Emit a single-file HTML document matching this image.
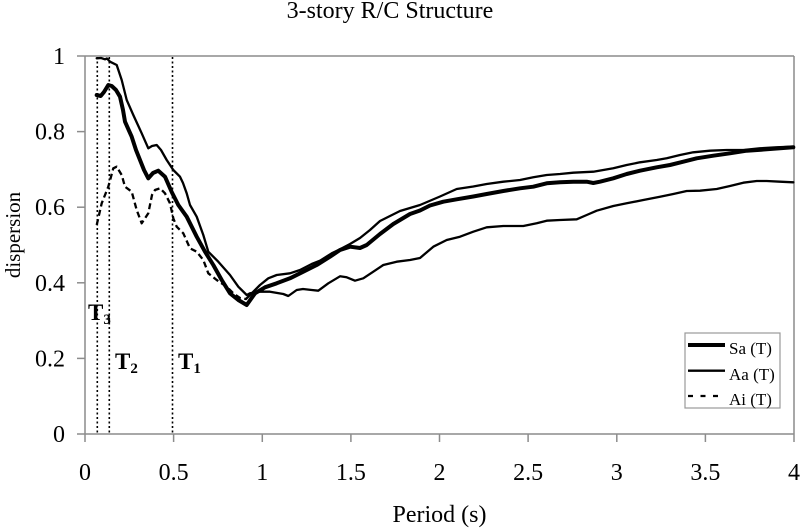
<!DOCTYPE html>
<html><head><meta charset="utf-8"><style>
html,body{margin:0;padding:0;background:#fff;}
svg{display:block;}
text{font-family:"Liberation Serif","Times New Roman",serif;fill:#000;}
</style></head><body>
<svg width="800" height="528" viewBox="0 0 800 528" xmlns="http://www.w3.org/2000/svg">
<rect x="0" y="0" width="800" height="528" fill="#fff"/>
<text x="390" y="18" font-size="24" text-anchor="middle">3-story R/C Structure</text>
<!-- plot frame -->
<line x1="85" y1="56" x2="794" y2="56" stroke="#8c8c8c" stroke-width="1.5"/>
<line x1="794" y1="56" x2="794" y2="434" stroke="#8c8c8c" stroke-width="1.5"/>
<line x1="85" y1="56" x2="85" y2="434" stroke="#8c8c8c" stroke-width="1.5"/>
<line x1="85" y1="434" x2="794" y2="434" stroke="#8c8c8c" stroke-width="1.5"/>
<!-- ticks -->
<g stroke="#8c8c8c" stroke-width="1.5">
<line x1="77" y1="434" x2="85" y2="434"/><line x1="77" y1="358.4" x2="85" y2="358.4"/>
<line x1="77" y1="282.8" x2="85" y2="282.8"/><line x1="77" y1="207.2" x2="85" y2="207.2"/>
<line x1="77" y1="131.6" x2="85" y2="131.6"/><line x1="77" y1="56" x2="85" y2="56"/>
<line x1="85" y1="434" x2="85" y2="442"/><line x1="173.6" y1="434" x2="173.6" y2="442"/>
<line x1="262.3" y1="434" x2="262.3" y2="442"/><line x1="350.9" y1="434" x2="350.9" y2="442"/>
<line x1="439.5" y1="434" x2="439.5" y2="442"/><line x1="528.1" y1="434" x2="528.1" y2="442"/>
<line x1="616.8" y1="434" x2="616.8" y2="442"/><line x1="705.4" y1="434" x2="705.4" y2="442"/>
<line x1="794" y1="434" x2="794" y2="442"/>
</g>
<g font-size="24" text-anchor="end">
<text x="65" y="442">0</text><text x="65" y="366.4">0.2</text><text x="65" y="290.8">0.4</text>
<text x="65" y="215.2">0.6</text><text x="65" y="139.6">0.8</text><text x="65" y="64">1</text>
</g>
<g font-size="24" text-anchor="middle">
<text x="85" y="480">0</text><text x="173.6" y="480">0.5</text><text x="262.3" y="480">1</text>
<text x="350.9" y="480">1.5</text><text x="439.5" y="480">2</text><text x="528.1" y="480">2.5</text>
<text x="616.8" y="480">3</text><text x="705.4" y="480">3.5</text><text x="794" y="480">4</text>
</g>
<text x="439.5" y="522" font-size="24" text-anchor="middle">Period (s)</text>
<text x="20" y="235" font-size="21" text-anchor="middle" transform="rotate(-90 20 235)">dispersion</text>
<!-- dotted period lines -->
<g stroke="#000" stroke-width="1.6" stroke-dasharray="2,2.5">
<line x1="97.3" y1="57" x2="97.3" y2="434"/>
<line x1="109.3" y1="57" x2="109.3" y2="434"/>
<line x1="172.5" y1="57" x2="172.5" y2="434"/>
</g>
<!-- T labels -->
<g font-size="23" font-weight="bold">
<text x="88" y="320">T<tspan font-size="15" dy="4">3</tspan></text>
<text x="115" y="369">T<tspan font-size="15" dy="4">2</tspan></text>
<text x="178" y="369">T<tspan font-size="15" dy="4">1</tspan></text>
</g>
<!-- series -->
<g fill="none" stroke="#000" stroke-linejoin="round" stroke-linecap="round">
<path stroke-width="2.3" d="M96.7,58.3 L101,58 L105,59.3 L107,58.5 L110,61.7 L116.7,65 L121.7,80 L126.7,100 L133.3,115 L141.7,133.3 L148.3,148.3 L152,146 L156.7,145 L161,150 L166.7,160 L173.3,170 L180,176.7 L183,183 L186.7,193.3 L190,205 L196.7,216.7 L203.3,235 L208.3,251.7 L218.3,261.7 L230,275 L238.3,286.7 L246.7,295 L250,293.3 L260,291.7 L270,291.7 L283.3,294 L288.3,296 L296.7,290 L303,289 L311.7,290 L318.3,290.7 L328.3,283.3 L340,276.3 L346.7,277.3 L355,280.7 L363.3,278.3 L373.3,271.7 L383.3,265 L396.7,261.7 L410,260 L420,258 L433.3,246.7 L446.7,240 L460,236.7 L473.3,231.7 L486.7,227.3 L503.3,226 L523.3,226 L536.7,223.3 L546.7,220.7 L560,220 L576.7,219.3 L586.7,215 L596.7,210.7 L613.3,206 L626.7,203.3 L643.3,200 L660,196.7 L673.3,194 L686.7,191 L700,190.7 L716.7,189 L730,186 L743.3,182.7 L756.7,181 L766.7,181 L780,181.7 L793.3,182.3"/>
<path stroke-width="2.3" stroke-dasharray="6,3.5" stroke-linecap="butt" d="M96.7,225 L101.7,203.3 L105,195 L108.3,186.7 L113.3,168.3 L116.7,166.7 L121.7,175 L125,186.7 L131.7,191.7 L136.7,210 L141.7,223.3 L148.3,213.3 L152,195 L155,190 L160,188.3 L165,193.3 L170,203.3 L173.3,218.3 L176.7,226.7 L183.3,233.3 L190,248.3 L196.7,251.7 L203.3,260 L208.3,273.3 L216.7,280 L226.7,286.7 L233.3,293.3 L240,298 L246,299"/>
<path stroke-width="2.3" d="M246,299 L253.3,291.7 L260,285 L268.3,278.3 L276.7,275 L290,273.3 L300,270 L311.7,264 L320,260.7 L331.7,253.3 L340,249.3 L350,244 L360,238 L370,230 L380,221 L390,216 L400,211 L420,205 L440,196.5 L456.7,189 L473.3,186.5 L486.7,184 L503.3,181.7 L520,180 L533.3,177.3 L546.7,175 L560,174 L573.3,172.7 L593.3,171.7 L613.3,168.3 L626.7,165 L640,162.3 L656.7,160 L666.7,158.3 L680,155 L693.3,152.3 L710,150.7 L726.7,150 L743.3,150 L760,148.3 L776.7,147.3 L793.3,146.7"/>
<path stroke-width="4" d="M96.7,95 L100.7,96 L104,92 L108.3,85 L111.7,86 L116,90 L120,96.7 L123,110 L125,121.7 L131.7,136.7 L136,150 L140,160 L144,170 L148.3,178.3 L153,173 L158.3,170.7 L165,176.7 L171.7,192 L178.3,205 L186.7,216.7 L196.7,236.7 L205,251.7 L213.3,265 L221.7,280 L230,293.3 L238.3,300 L246.7,305 L255,293.3 L265,287.3 L276.7,283.3 L290,278.3 L303.3,271.7 L316.7,265 L330,256.7 L340,250 L350,246.7 L360,248 L366.7,245 L380,234 L393.3,224 L410,214 L420,210.5 L430,205.5 L443.3,201.7 L456.7,199.3 L473.3,196.5 L486.7,194 L503.3,191 L520,188.3 L533.3,186.7 L546.7,183.3 L560,182.3 L573.3,181.7 L586.7,181.7 L593.3,183 L600,181.7 L613.3,178.3 L626.7,174 L640,170.7 L656.7,167.3 L670,165 L683.3,161.7 L696.7,158.3 L713.3,155.7 L730,153.3 L746.7,150.7 L766.7,149.3 L780,148.3 L793.3,147.3"/>
</g>
<!-- legend -->
<rect x="685" y="333" width="95" height="75" fill="#fff" stroke="#999" stroke-width="1.2"/>
<line x1="688" y1="345" x2="725" y2="345" stroke="#000" stroke-width="4"/>
<line x1="688" y1="370.7" x2="725" y2="370.7" stroke="#000" stroke-width="2.3"/>
<line x1="688" y1="396" x2="725" y2="396" stroke="#000" stroke-width="2.3" stroke-dasharray="5,7.5"/>
<g font-size="17">
<text x="729" y="354">Sa (T)</text>
<text x="729" y="380">Aa (T)</text>
<text x="729" y="405">Ai (T)</text>
</g>
</svg>
</body></html>
